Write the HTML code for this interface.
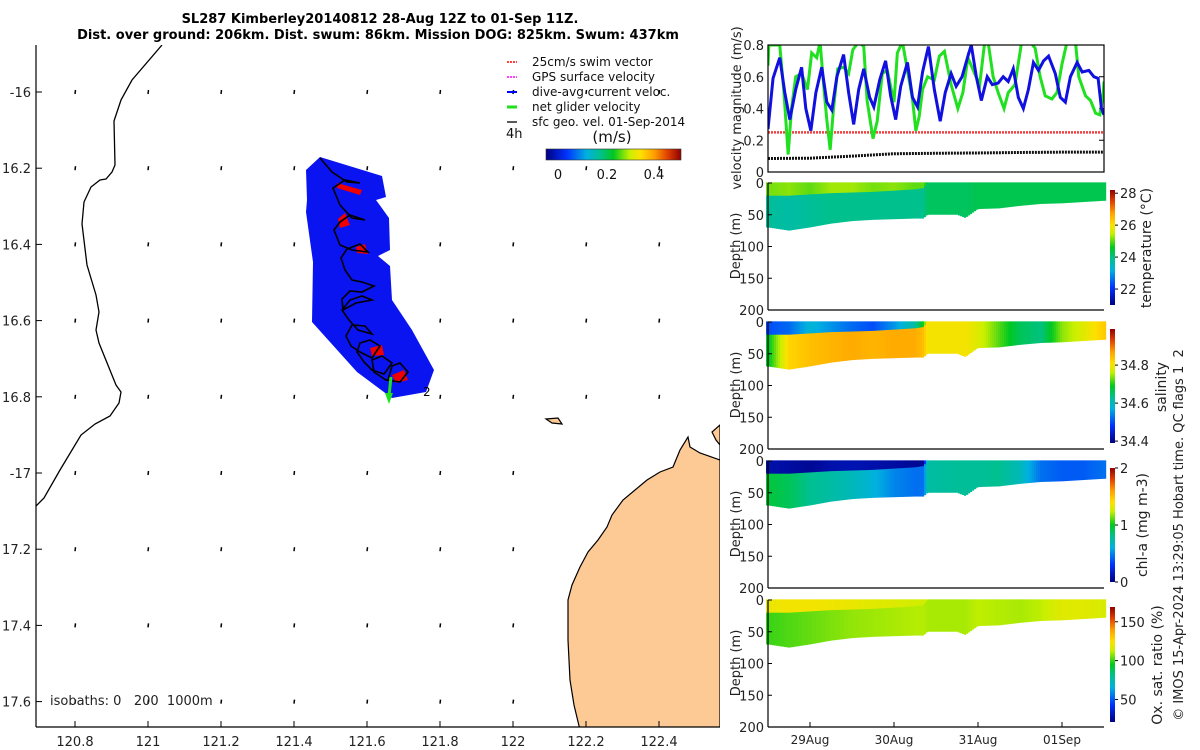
<!DOCTYPE html>
<html><head><meta charset="utf-8">
<style>
html,body{margin:0;padding:0;background:#fff;}
svg{display:block;font-family:"DejaVu Sans","Liberation Sans",sans-serif;}
text{white-space:pre;}
</style></head>
<body>
<svg id="chart" width="1200" height="750" viewBox="0 0 1200 750" xmlns="http://www.w3.org/2000/svg">
<defs>
<linearGradient id="jetV" x1="0" y1="1" x2="0" y2="0">
<stop offset="0" stop-color="#00007f"/><stop offset="0.15" stop-color="#0030ff"/><stop offset="0.3" stop-color="#00b0e0"/><stop offset="0.4" stop-color="#00c090"/><stop offset="0.5" stop-color="#00c820"/><stop offset="0.62" stop-color="#c8f000"/><stop offset="0.7" stop-color="#ffe000"/><stop offset="0.8" stop-color="#ffa000"/><stop offset="0.9" stop-color="#e04000"/><stop offset="1" stop-color="#900000"/>
</linearGradient>
<linearGradient id="jetH" x1="0" y1="0" x2="1" y2="0">
<stop offset="0" stop-color="#00007f"/><stop offset="0.15" stop-color="#0030ff"/><stop offset="0.3" stop-color="#00b0e0"/><stop offset="0.4" stop-color="#00c090"/><stop offset="0.5" stop-color="#00c820"/><stop offset="0.62" stop-color="#c8f000"/><stop offset="0.7" stop-color="#ffe000"/><stop offset="0.8" stop-color="#ffa000"/><stop offset="0.9" stop-color="#e04000"/><stop offset="1" stop-color="#900000"/>
</linearGradient>
<clipPath id="velClip"><rect x="768" y="45" width="336" height="127"/></clipPath>
<clipPath id="mapClip"><rect x="36" y="45" width="684" height="682"/></clipPath>
</defs>

<text x="380" y="23" font-size="13" font-weight="bold" text-anchor="middle">SL287 Kimberley20140812 28-Aug 12Z to 01-Sep 11Z.</text>
<text x="378" y="39" font-size="13" font-weight="bold" text-anchor="middle">Dist. over ground: 206km. Dist. swum: 86km. Mission DOG: 825km. Swum: 437km</text>

<g id="map" clip-path="url(#mapClip)">
<polygon fill="#fdca96" stroke="#000" stroke-width="1.2" points="720,425 712,432 716,440 720,445 720,460 700,453 690,447 688,437 680,450 673,467 660,472 647,480 635,490 623,500 612,515 607,527 598,540 588,552 580,567 572,585 568,600 568,640 570,680 574,705 580,730 720,730"/>
<path d="M546,419 L558,418 L562,424 L552,423 Z" fill="#fdca96" stroke="#000" stroke-width="1.2"/>
<polyline fill="none" stroke="#000" stroke-width="1.3" points="162,45 132,80 121,100 114,121 115,165 112,172 106,179 100,180 91,187 84,202 82,224 87,265 96,295 99,312 96,330 99,343 116,385 121,392 119,403 110,416 95,424 81,435 60,470 44,498 36,506"/>
<g id="arrows"></g>
<polygon fill="#0a14f0" points="306,170 320,157 382,176 386,197 376,200 389,218 390,250 378,256 390,266 392,300 412,330 434,370 426,392 392,398 357,372 330,342 312,322 313,262 306,212 307,200"/>
<g id="swim" fill="#f00000">
<polygon points="337,183 362,190 360,195 337,188"/>
<polygon points="338,219 345,213 350,225 340,228"/>
<polygon points="356,247 365,244 368,254 357,253"/>
<polygon points="370,348 382,345 384,355 372,356"/>
<polygon points="392,375 404,370 408,380 396,383"/>
</g>
<polyline fill="none" stroke="#000" stroke-width="1.6" points="320,158 332,172 347,182 360,183 345,180 333,188 340,205 352,218 365,220 350,215 340,222 334,230 340,245 352,250 368,252 360,244 347,249 341,258 345,270 352,280 362,282 374,286 362,292 350,291 342,299 343,310 356,303 372,300 362,296 350,300 342,310 349,320 358,330 372,334 365,326 352,325 346,336 351,346 360,352 372,358 380,346 370,340 360,343 357,352 364,362 372,370 384,374 392,363 382,356 372,360 374,372 386,380 400,382 408,372 400,363 392,366 388,380"/>
<line x1="391" y1="377" x2="389" y2="396" stroke="#20e020" stroke-width="3"/>
<polygon points="385,393 393,393 389,404" fill="#20e020"/>
<text x="423" y="396" font-size="12">2</text>
</g>
<line x1="36" y1="45" x2="36" y2="727" stroke="#000" stroke-width="1.2"/>
<line x1="36" y1="727" x2="720" y2="727" stroke="#000" stroke-width="1.2"/>
<g id="mapTicks" font-size="13" fill="#222"></g>
<text x="50" y="705" font-size="13" fill="#222" xml:space="preserve">isobaths: 0   200  1000m</text>

<g font-size="12" fill="#111">
<line x1="507" y1="62" x2="517" y2="62" stroke="#f00" stroke-width="1.5" stroke-dasharray="2,1"/><text x="532" y="66">25cm/s swim vector</text>
<line x1="507" y1="77" x2="517" y2="77" stroke="#f0f" stroke-width="1.5" stroke-dasharray="2,1"/><text x="532" y="81">GPS surface velocity</text>
<line x1="507" y1="92" x2="517" y2="92" stroke="#00f" stroke-width="2"/><text x="532" y="96">dive-avg current veloc.</text>
<line x1="507" y1="107" x2="517" y2="107" stroke="#20e020" stroke-width="3"/><text x="532" y="111">net glider velocity</text>
<line x1="507" y1="122" x2="517" y2="122" stroke="#222" stroke-width="1.5"/><text x="532" y="126">sfc geo. vel. 01-Sep-2014</text>
<text x="506" y="138" font-size="13">4h</text>
<text x="612" y="142" font-size="15" text-anchor="middle">(m/s)</text>
<rect x="546" y="149" width="135" height="11" fill="url(#jetH)" stroke="#333" stroke-width="0.6"/>
<text x="558" y="179" font-size="13" text-anchor="middle">0</text>
<text x="607" y="179" font-size="13" text-anchor="middle">0.2</text>
<text x="654" y="179" font-size="13" text-anchor="middle">0.4</text>
</g>

<g id="vel"></g>
<g id="sections"></g>

<text transform="translate(1183,535) rotate(-90)" font-size="13" text-anchor="middle" fill="#222" xml:space="preserve">© IMOS 15-Apr-2024 13:29:05 Hobart time. QC flags 1  2</text>
</svg>

<script>
// ---------- velocity panel data (days since 28-Aug 12Z) ----------
const blueT = [0,0.06,0.14,0.2,0.26,0.33,0.4,0.45,0.51,0.57,0.64,0.7,0.76,0.82,0.9,0.96,1.02,1.08,1.14,1.21,1.26,1.33,1.4,1.46,1.52,1.58,1.66,1.72,1.78,1.84,1.91,1.98,2.05,2.11,2.18,2.24,2.31,2.38,2.42,2.48,2.54,2.61,2.67,2.74,2.8,2.86,2.92,2.98,3.04,3.1,3.16,3.22,3.28,3.34,3.42,3.48,3.54,3.6,3.68,3.74,3.82,3.88,3.93,3.97,4.0];
const blueV = [0.27,0.59,0.72,0.5,0.33,0.52,0.66,0.4,0.26,0.5,0.66,0.44,0.39,0.6,0.74,0.5,0.3,0.52,0.65,0.47,0.41,0.58,0.7,0.48,0.33,0.54,0.69,0.47,0.41,0.63,0.79,0.52,0.32,0.5,0.62,0.54,0.6,0.73,0.8,0.6,0.45,0.6,0.55,0.56,0.6,0.57,0.65,0.47,0.4,0.52,0.69,0.64,0.7,0.73,0.62,0.47,0.44,0.6,0.69,0.63,0.64,0.6,0.59,0.4,0.36];
const greenT = [0,0.01,0.14,0.19,0.24,0.28,0.33,0.4,0.47,0.52,0.58,0.62,0.67,0.7,0.74,0.78,0.83,0.9,0.96,1.01,1.08,1.14,1.18,1.25,1.3,1.36,1.42,1.5,1.54,1.6,1.66,1.72,1.76,1.8,1.84,1.9,1.98,2.04,2.1,2.18,2.26,2.32,2.38,2.46,2.52,2.58,2.62,2.68,2.74,2.81,2.86,2.94,3.02,3.12,3.18,3.24,3.3,3.38,3.44,3.5,3.56,3.66,3.7,3.78,3.84,3.9,3.95,3.99,4.0];
const greenV = [0.67,0.8,0.8,0.5,0.11,0.4,0.6,0.62,0.52,0.75,0.72,0.82,0.5,0.33,0.14,0.4,0.65,0.66,0.62,0.77,0.82,0.79,0.45,0.21,0.32,0.62,0.64,0.44,0.75,0.82,0.64,0.46,0.26,0.35,0.52,0.6,0.58,0.73,0.76,0.55,0.4,0.5,0.72,0.62,0.55,0.82,0.82,0.6,0.5,0.4,0.5,0.55,0.82,0.82,0.78,0.6,0.48,0.46,0.5,0.68,0.82,0.82,0.6,0.48,0.45,0.37,0.36,0.49,0.57];
const swimV = [0.25,0.25];
const geoT = [0,0.5,1.0,1.5,2.0,2.5,3.0,3.5,4.0];
const geoV = [0.085,0.087,0.1,0.115,0.118,0.12,0.123,0.125,0.125];
const velTicks = [0,0.2,0.4,0.6,0.8];

// ---------- section data ----------
const secT = [0,0.25,0.5,0.75,1.0,1.25,1.5,1.75,1.85,1.9,2.25,2.35,2.5,2.75,3.0,3.25,3.5,3.75,4.0];
const mixDepth = [20,20,18,16,15,14,12,10,8,0,0,0,0,0,0,0,0,0,0];
const botDepth = [70,75,70,64,60,58,57,56,56,50,50,55,41,40,36,33,32,30,28];
const tempTop = [25.1,25.2,25.0,25.3,25.3,25.1,25.2,25.0,25.0,24.4,24.3,24.3,24.3,24.3,24.3,24.4,24.3,24.3,24.3];
const tempBot = [23.8,23.7,23.8,23.9,23.9,23.9,23.9,23.9,23.9,24.2,24.2,24.2,24.3,24.3,24.3,24.3,24.3,24.3,24.3];
const salTop = [34.5,34.52,34.58,34.55,34.52,34.5,34.55,34.62,34.7,34.8,34.8,34.8,34.78,34.72,34.66,34.64,34.74,34.78,34.83];
const salBot = [34.68,34.82,34.84,34.85,34.86,34.85,34.86,34.86,34.84,34.8,34.8,34.8,34.78,34.72,34.66,34.64,34.74,34.78,34.83];
const chlTop = [0.1,0.08,0.05,0.1,0.12,0.1,0.08,0.05,0.05,0.7,0.72,0.72,0.7,0.7,0.65,0.4,0.3,0.3,0.35];
const chlBot = [0.95,0.9,0.8,0.75,0.7,0.62,0.5,0.45,0.45,0.75,0.78,0.78,0.78,0.8,0.7,0.45,0.4,0.4,0.45];
const oxTop = [120,122,122,121,120,118,117,115,115,112,112,113,115,113,112,118,124,124,122];
const oxBot = [100,102,104,106,108,109,110,111,111,110,110,110,112,111,110,112,118,118,116];

const dayTicks = [0.5,1.5,2.5,3.5];
const dayLabels = ["29Aug","30Aug","31Aug","01Sep"];
const depthTicks = [0,50,100,150,200];

// ---------- map data ----------
const lonTicks = [120.8,121,121.2,121.4,121.6,121.8,122,122.2,122.4];
const lonLabels = ["120.8","121","121.2","121.4","121.6","121.8","122","122.2","122.4"];
const latTicks = [-16,-16.2,-16.4,-16.6,-16.8,-17,-17.2,-17.4,-17.6];
const latLabels = ["-16","16.2","16.4","16.6","16.8","-17","17.2","17.4","17.6"];
const arrowLon = [120.8,121,121.2,121.4,121.6,121.8,122,122.2,122.4];
const arrowLat = [-16,-16.2,-16.4,-16.6,-16.8,-17,-17.2,-17.4,-17.6];

const NS = "http://www.w3.org/2000/svg";
function mk(tag, attrs, parent){const e=document.createElementNS(NS,tag);for(const k in attrs)e.setAttribute(k,attrs[k]);if(parent)parent.appendChild(e);return e;}

// map axes
const lonX = lon => 148 + (lon-121)*365;
const latY = lat => 92 + (-16-lat)*381;
const mt = document.getElementById('mapTicks');
lonTicks.forEach((v,i)=>{
  const x=lonX(v);
  const l=mk('line',{x1:x,y1:727,x2:x,y2:721,stroke:'#000'},mt);
  
  
  const t=mk('text',{x:x,y:746,'text-anchor':'middle'},mt); t.textContent=lonLabels[i];
  
  
});
latTicks.forEach((v,i)=>{
  const y=latY(v);
  const l=mk('line',{x1:36,y1:y,x2:42,y2:y,stroke:'#000'},mt);
  
  
  const t=mk('text',{x:31,y:y+5,'text-anchor':'end'},mt); t.textContent=latLabels[i];
  
  
});
const ag=document.getElementById('arrows');
arrowLat.forEach(la=>arrowLon.forEach(lo=>{
  const x=lonX(lo), y=latY(la);
  if (x>560 && y>430) return;
  const a=mk('line',{x1:x,y1:y+2,x2:x+0.5,y2:y-2,stroke:'#000','stroke-width':1.5},ag);
  
  
}));

// velocity panel
const vel=document.getElementById('vel');
const tX = t => 768 + t*84;
const vY = v => 172 - v/0.8*127;
velTicks.forEach(v=>{
  const y=vY(v);
  const t=mk('text',{x:764,y:y+5,'font-size':13,'text-anchor':'end',fill:'#222'},vel); t.textContent=(v===0?'0':v.toFixed(1));
  
  
  mk('line',{x1:1104,y1:y,x2:1099,y2:y,stroke:'#000'},vel);
});
const vc=mk('g',{'clip-path':'url(#velClip)'},vel);
function poly(T,V,attrs,name){
  const p=mk('polyline',Object.assign({fill:'none',points:T.map((t,i)=>tX(t)+','+vY(V[i])).join(' ')},attrs),vc);
  
  
}
poly([0,4],swimV,{stroke:'#f04040','stroke-width':2.5,'stroke-dasharray':'2,1'},'swim-speed-line');
poly(geoT,geoV,{stroke:'#111','stroke-width':3,'stroke-dasharray':'2,1'},'geo-velocity-line');
poly(greenT,greenV,{stroke:'#20e020','stroke-width':3},'net-glider-velocity-line');
poly(blueT,blueV,{stroke:'#1010e0','stroke-width':3},'dive-avg-current-line');
const vb=mk('rect',{x:768,y:45,width:336,height:127,fill:'none',stroke:'#000','stroke-width':1.2},vel);


const vt=mk('text',{transform:'translate(741,108) rotate(-90)','font-size':13,'text-anchor':'middle',fill:'#222'},vel);
vt.textContent='velocity magnitude (m/s)';



// colormap
const cmapStops=[[0,[0,0,127]],[0.15,[0,48,255]],[0.3,[0,176,224]],[0.4,[0,192,144]],[0.5,[0,200,32]],[0.62,[200,240,0]],[0.7,[255,224,0]],[0.8,[255,160,0]],[0.9,[224,64,0]],[1,[144,0,0]]];
function cmap(f){
  f=Math.max(0,Math.min(1,f));
  for(let i=1;i<cmapStops.length;i++){
    if(f<=cmapStops[i][0]){const a=cmapStops[i-1],b=cmapStops[i];const u=(f-a[0])/(b[0]-a[0]);
      const c=a[1].map((v,k)=>Math.round(v+(b[1][k]-v)*u));return 'rgb('+c.join(',')+')';}
  }
  return 'rgb(144,0,0)';
}
function interp(T,V,t){
  if(t<=T[0])return V[0]; if(t>=T[T.length-1])return V[V.length-1];
  for(let i=1;i<T.length;i++) if(t<=T[i]){const u=(t-T[i-1])/(T[i]-T[i-1]);return V[i-1]+(V[i]-V[i-1])*u;}
}

const panels=[
  {y0:183,name:'temperature',top:tempTop,bot:tempBot,min:21,max:28.2,cb:[190,305],ticks:[28,26,24,22],tl:['28','26','24','22'],title:'temperature (°C)',tx:1151,ty:248},
  {y0:322,name:'salinity',top:salTop,bot:salBot,min:34.39,max:34.99,cb:[329,443],ticks:[34.8,34.6,34.4],tl:['34.8','34.6','34.4'],title:'salinity',tx:1166,ty:387},
  {y0:461,name:'chlorophyll',top:chlTop,bot:chlBot,min:0,max:2,cb:[468,582],ticks:[2,1,0],tl:['2','1','0'],title:'chl-a (mg m-3)',tx:1147,ty:525},
  {y0:600,name:'oxygen',top:oxTop,bot:oxBot,min:21,max:169,cb:[607,722],ticks:[150,100,50],tl:['150','100','50'],title:'Ox. sat. ratio (%)',tx:1162,ty:665}
];
const sec=document.getElementById('sections');
panels.forEach((p,pi)=>{
  const g=mk('g',{},sec);
  
  
  const dY = d => p.y0 + d/200*127;
  const norm = v => (v-p.min)/(p.max-p.min);
  for(let x=766;x<1106;x+=2){
    const t=(x+1-768)/84;
    const md=interp(secT,mixDepth,t), bd=interp(secT,botDepth,t);
    if(md>0){mk('rect',{x:x,y:dY(-1),width:2.2,height:dY(md)-dY(-1)+0.5,fill:cmap(norm(interp(secT,p.top,t)))},g);}
    mk('rect',{x:x,y:dY(md>0?md:-1),width:2.2,height:Math.max(0,dY(bd)-dY(md>0?md:-1)),fill:cmap(norm(interp(secT,p.bot,t)))},g);
  }
  mk('line',{x1:768,y1:p.y0,x2:768,y2:p.y0+127,stroke:'#000','stroke-width':1.2},g);
  mk('line',{x1:768,y1:p.y0+127,x2:1104,y2:p.y0+127,stroke:'#000','stroke-width':1.2},g);
  depthTicks.forEach(d=>{
    const y=dY(d);
    mk('line',{x1:768,y1:y,x2:772,y2:y,stroke:'#000'},g);
    const t=mk('text',{x:764,y:y+5,'font-size':13,'text-anchor':'end',fill:'#222'},g); t.textContent=String(d);
    
    
  });
  const yt=mk('text',{transform:'translate(740,'+(p.y0+63)+') rotate(-90)','font-size':13,'text-anchor':'middle',fill:'#222'},g);
  yt.textContent='Depth (m)';
  
  
  const cb=mk('rect',{x:1110,y:p.cb[0],width:5,height:p.cb[1]-p.cb[0],fill:'url(#jetV)'},g);
  
  
  p.ticks.forEach((v,i)=>{
    const y=p.cb[1]-(v-p.min)/(p.max-p.min)*(p.cb[1]-p.cb[0]);
    mk('line',{x1:1115,y1:y,x2:1118,y2:y,stroke:'#000'},g);
    const t=mk('text',{x:1120,y:y+5,'font-size':13,fill:'#222'},g); t.textContent=p.tl[i];
    
    
  });
  const ct=mk('text',{transform:'translate('+p.tx+','+p.ty+') rotate(-90)','font-size':14,'text-anchor':'middle',fill:'#222'},g);
  ct.textContent=p.title;
  
  
  if(pi===3){
    dayTicks.forEach((d,i)=>{
      const x=tX(d);
      mk('line',{x1:x,y1:727,x2:x,y2:722,stroke:'#000'},g);
      const t=mk('text',{x:x,y:744,'font-size':12,'text-anchor':'middle',fill:'#222'},g); t.textContent=dayLabels[i];
      
      
    });
  }
});
</script>
</body></html>
